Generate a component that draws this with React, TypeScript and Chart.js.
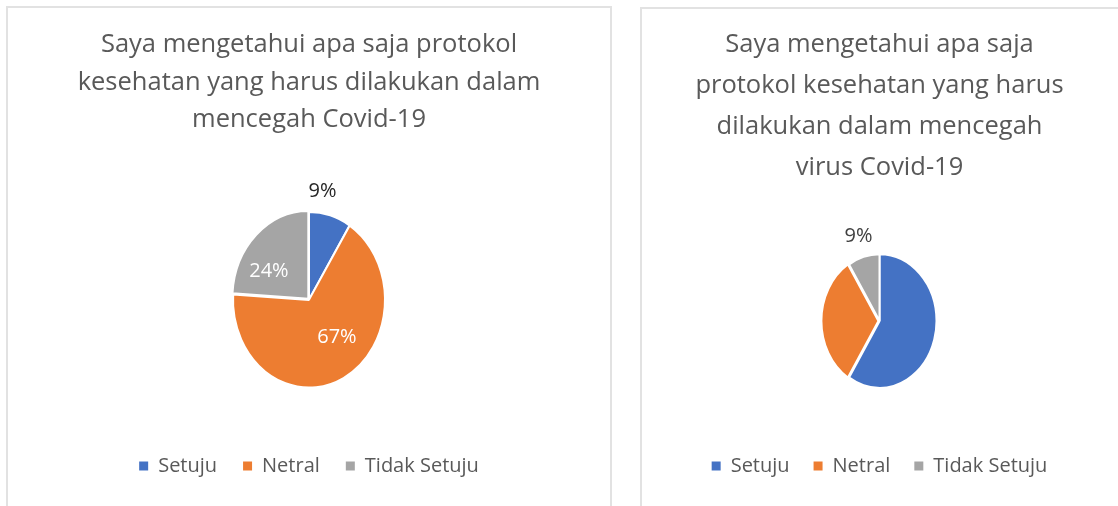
import React, { useEffect, useRef } from "react";
import { Chart, registerables } from "chart.js";

Chart.register(...registerables);

const categories = ["Setuju", "Netral", "Tidak Setuju"];
const leftTitle = [
  "Saya mengetahui apa saja protokol",
  "kesehatan yang harus dilakukan dalam",
  "mencegah Covid-19",
];
const leftValues = [9, 67, 24];
const rightTitle = [
  "Saya mengetahui apa saja",
  "protokol kesehatan yang harus",
  "dilakukan dalam mencegah",
  "virus Covid-19",
];
const rightValues = [59, 32, 9];
const sliceColors = ["#4472C4", "#ED7D31", "#A5A5A5"];

const FONT = "'Open Sans', 'Noto Sans', sans-serif";
const TEXT = "#595959";
const TITLE_SIZE = 25.5;
const LEGEND_SIZE = 20;

type LabelCfg = { index: number; frac: number; shift: number; color: string };

type PieCfg = {
  title: string[];
  values: number[];
  width: number;
  height: number;
  titleLineHeight: number;
  titlePadTop: number;
  titlePadBottom: number;
  legendPadding: number;
  radius: number;
  stretchY: number;
  offsets: number[];
  labels: LabelCfg[];
};

const ellipsePlugin = {
  id: "ellipse",
  beforeDatasetsDraw(chart: any, _args: any, opts: any) {
    const arc = chart.getDatasetMeta(0).data[0];
    if (!arc) return;
    const ctx = chart.ctx;
    ctx.save();
    ctx.translate(arc.x, arc.y);
    ctx.scale(1, opts.stretchY || 1);
    ctx.translate(-arc.x, -arc.y);
  },
  afterDatasetsDraw(chart: any) {
    chart.ctx.restore();
  },
};

const pctLabelPlugin = {
  id: "pctLabels",
  afterDraw(chart: any, _args: any, opts: any) {
    const meta = chart.getDatasetMeta(0);
    const data = chart.data.datasets[0].data as number[];
    const total = data.reduce((a, b) => a + b, 0);
    const ctx = chart.ctx;
    const sy = opts.stretchY || 1;
    ctx.save();
    ctx.font = `20px ${FONT}`;
    ctx.textAlign = "center";
    ctx.textBaseline = "middle";
    (opts.labels as LabelCfg[]).forEach((l) => {
      const arc = meta.data[l.index];
      const mid = (arc.startAngle + arc.endAngle) / 2 + (l.shift * Math.PI) / 180;
      const r = arc.outerRadius * l.frac;
      const x = arc.x + Math.cos(mid) * r;
      const y = arc.y + Math.sin(mid) * r * sy;
      ctx.fillStyle = l.color;
      ctx.fillText(Math.round((data[l.index] / total) * 100) + "%", x, y);
    });
    ctx.restore();
  },
};

function PieBox({ cfg }: { cfg: PieCfg }) {
  const ref = useRef<HTMLCanvasElement | null>(null);
  useEffect(() => {
    if (!ref.current) return;
    const chart = new Chart(ref.current, {
      type: "pie",
      data: {
        labels: categories,
        datasets: [
          {
            data: cfg.values,
            backgroundColor: sliceColors,
            borderColor: "#ffffff",
            borderWidth: 2,
            offset: cfg.offsets,
          },
        ],
      },
      options: {
        animation: false,
        responsive: false,
        radius: cfg.radius,
        layout: { padding: { bottom: 20 } },
        plugins: {
          tooltip: { enabled: false },
          title: {
            display: true,
            text: cfg.title,
            color: TEXT,
            font: {
              family: FONT,
              size: TITLE_SIZE,
              weight: "normal",
              lineHeight: cfg.titleLineHeight / TITLE_SIZE,
            },
            padding: { top: cfg.titlePadTop, bottom: cfg.titlePadBottom },
          },
          legend: {
            display: true,
            position: "bottom",
            labels: {
              color: TEXT,
              boxWidth: 9,
              boxHeight: 9,
              padding: cfg.legendPadding,
              font: { family: FONT, size: LEGEND_SIZE },
              generateLabels: () =>
                categories.map((t, i) => ({
                  text: t,
                  fillStyle: sliceColors[i],
                  strokeStyle: sliceColors[i],
                  lineWidth: 0,
                  hidden: false,
                  index: i,
                  fontColor: TEXT,
                })),
            },
          },
          ellipse: { stretchY: cfg.stretchY },
          pctLabels: { stretchY: cfg.stretchY, labels: cfg.labels },
        } as any,
      },
      plugins: [ellipsePlugin, pctLabelPlugin],
    });
    return () => chart.destroy();
  }, [cfg]);
  return <canvas ref={ref} width={cfg.width} height={cfg.height} style={{ display: "block" }} />;
}

const leftCfg: PieCfg = {
  title: leftTitle,
  values: leftValues,
  width: 602,
  height: 498,
  titleLineHeight: 37.5,
  titlePadTop: 18,
  titlePadBottom: 31,
  legendPadding: 26,
  radius: 76,
  stretchY: 88 / 76,
  offsets: [0, 0, 4],
  labels: [
    { index: 0, frac: 1.24, shift: -8, color: "#262626" },
    { index: 2, frac: 0.62, shift: -15, color: "#ffffff" },
    { index: 1, frac: 0.56, shift: -14, color: "#ffffff" },
  ],
};

const rightCfg: PieCfg = {
  title: rightTitle,
  values: rightValues,
  width: 475,
  height: 497,
  titleLineHeight: 41,
  titlePadTop: 15,
  titlePadBottom: 22,
  legendPadding: 24,
  radius: 57,
  stretchY: 67 / 57,
  offsets: [0, 4, 0],
  labels: [{ index: 2, frac: 1.32, shift: 0, color: "#404040" }],
};

export default function App() {
  return (
    <div
      style={{
        position: "fixed",
        left: 0,
        top: 0,
        width: 1118,
        height: 506,
        background: "#ffffff",
        overflow: "hidden",
      }}
    >
      <div
        style={{
          position: "absolute",
          left: 6,
          top: 6,
          width: 602,
          height: 520,
          border: "2px solid #e2e2e2",
        }}
      >
        <PieBox cfg={leftCfg} />
      </div>
      <div
        style={{
          position: "absolute",
          left: 640,
          top: 7,
          width: 490,
          height: 520,
          border: "2px solid #e2e2e2",
        }}
      >
        <PieBox cfg={rightCfg} />
      </div>
    </div>
  );
}
